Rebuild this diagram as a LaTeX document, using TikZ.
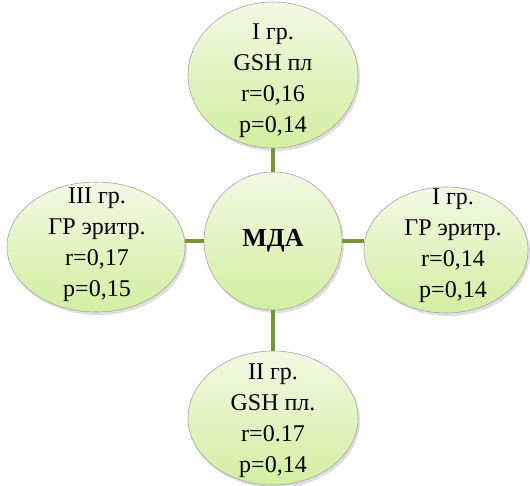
\documentclass[tikz,border=0pt]{standalone}
\usepackage{fontspec}
\setmainfont{Liberation Serif}
\usetikzlibrary{shapes.geometric,shadows}
\definecolor{linkgreen}{HTML}{77933C}
\definecolor{fillhi}{HTML}{F2F9E4}
\definecolor{filllo}{HTML}{D2EFA0}
\tikzset{
  grp/.style={ellipse,draw=gray!70,line width=0.6pt,top color=fillhi,bottom color=filllo,
    drop shadow={opacity=0.25,shadow xshift=2pt,shadow yshift=-3pt},inner sep=0pt},
  txt/.style={align=center,font=\fontsize{24}{31}\selectfont,inner sep=0pt},
  link/.style={linkgreen,line width=4.5pt}
}
\begin{document}
\begin{tikzpicture}[x=1pt,y=-1pt]
\useasboundingbox (0,0) rectangle (530,485);
\node[grp,circle,minimum size=138pt] (mda) at (273,241) {};
\node[grp,minimum width=170pt,minimum height=146pt] (top) at (273,75) {};
\node[grp,minimum width=178pt,minimum height=130pt] (left) at (96,247) {};
\node[grp,minimum width=164pt,minimum height=126pt] (right) at (446,250) {};
\node[grp,minimum width=170pt,minimum height=134pt] (bottom) at (273,418) {};
% connectors
\draw[link] (mda.north) -- (top.south);
\draw[link] (mda.south) -- (bottom.north);
\draw[link] (mda.west) -- (mda.west -| left.east);
\draw[link] (mda.east) -- (mda.east -| right.west);
% labels
\node[font=\fontsize{26}{30}\selectfont\bfseries] (mdatxt) at (mda.center) {МДА};
\node[txt] (toptxt) at (273,81) {I гр.\\GSH пл\\r=0,16\\p=0,14};
\node[txt] (lefttxt) at (97,245) {III гр.\\ГР эритр.\\r=0,17\\p=0,15};
\node[txt] (righttxt) at (453,246) {I гр.\\ГР эритр.\\r=0,14\\p=0,14};
\node[txt] (bottomtxt) at (273,421) {II гр.\\GSH пл.\\r=0.17\\p=0,14};
\end{tikzpicture}
\end{document}
